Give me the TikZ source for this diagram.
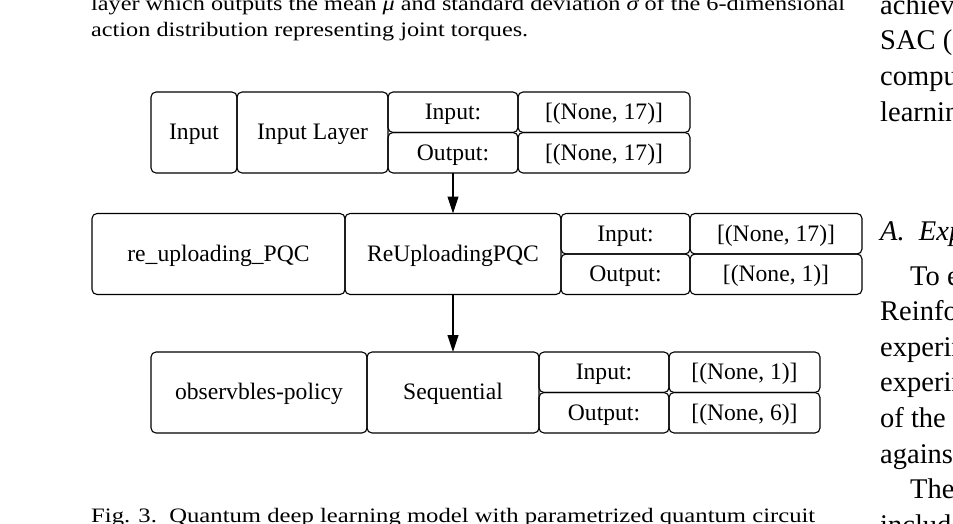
\documentclass[tikz,border=0pt]{standalone}
\usepackage{fontspec}
\setmainfont{Liberation Serif}
\usepackage{graphicx}
\usetikzlibrary{arrows.meta, positioning}
\newcommand{\diagfont}{\fontsize{23.6}{28}\selectfont}
\newcommand{\bodyfont}{\fontsize{20.5}{26}\selectfont}
\newcommand{\colfont}{\fontsize{28.5}{35}\selectfont}
\tikzset{
  cell/.style={draw=black, line width=1.1pt, rounded corners=5pt,
               font=\diagfont, inner sep=0pt, outer sep=0pt, align=center,
               text height=20pt, text depth=5.2pt},
  fullcell/.style={cell, minimum height=81pt},
  halfcell/.style={cell, minimum height=40.5pt},
  arr/.style={-{Triangle[length=17pt, width=11pt]}, line width=1.1pt},
  bodyline/.style={anchor=base west, inner sep=0pt, font=\bodyfont},
  colline/.style={anchor=base west, inner sep=0pt, font=\colfont},
}
\begin{document}
\begin{tikzpicture}[x=1pt, y=-1pt]
  \useasboundingbox (0,0) rectangle (953,524);
  \clip (0,0) rectangle (953,524);

  % Text of the page around the figure
  \node[bodyline] (l1) at (91,10.5)
    {\resizebox{754pt}{\height}{layer which outputs the mean {\itshape μ} and standard deviation {\itshape σ} of the 6-dimensional}};
  \node[bodyline] (l2) at (91,36.5)
    {\resizebox{437pt}{\height}{action distribution representing joint torques.}};
  \node[bodyline] (cap) at (91,522)
    {\resizebox{724pt}{\height}{Fig. 3.\ \ Quantum deep learning model with parametrized quantum circuit}};

  % Right column (cut off by the page edge)
  \node[colline] (c1) at (880,14.4) {achieved};
  \node[colline] (c2) at (880,50) {SAC (};
  \node[colline] (c3) at (880,85.6) {computational};
  \node[colline] (c4) at (880,121.2) {learning};
  \node[colline, font=\colfont\itshape] (c5) at (880,240) {A.\ \ Experimental};
  \node[colline] (c6) at (910,285) {To evaluate};
  \node[colline] (c7) at (880,320.6) {Reinforcement};
  \node[colline] (c8) at (880,356.2) {experiments};
  \node[colline] (c9) at (880,391.8) {experiments};
  \node[colline] (c10) at (880,427.4) {of the};
  \node[colline] (c11) at (880,463) {against};
  \node[colline] (c12) at (910,498.6) {The};
  \node[colline] (c13) at (880,534.2) {include};

  % Row 1: input layer
  \node[fullcell, minimum width=86pt] (r1name) at (194,132.5) {Input};
  \node[fullcell, minimum width=151pt, right=0pt of r1name] (r1type) {Input Layer};
  \node[halfcell, minimum width=130pt, anchor=north west] (r1ik) at (r1type.north east) {Input:};
  \node[halfcell, minimum width=130pt, below=0pt of r1ik] (r1ok) {Output:};
  \node[halfcell, minimum width=172pt, right=0pt of r1ik] (r1iv) {[(None, 17)]};
  \node[halfcell, minimum width=172pt, right=0pt of r1ok] (r1ov) {[(None, 17)]};

  % Row 2: re-uploading PQC
  \node[fullcell, minimum width=253pt] (r2name) at (218.5,254) {re\_uploading\_PQC};
  \node[fullcell, minimum width=216pt, right=0pt of r2name] (r2type) {ReUploadingPQC};
  \node[halfcell, minimum width=129pt, anchor=north west] (r2ik) at (r2type.north east) {Input:};
  \node[halfcell, minimum width=129pt, below=0pt of r2ik] (r2ok) {Output:};
  \node[halfcell, minimum width=172pt, right=0pt of r2ik] (r2iv) {[(None, 17)]};
  \node[halfcell, minimum width=172pt, right=0pt of r2ok] (r2ov) {[(None, 1)]};

  % Row 3: policy head
  \node[fullcell, minimum width=216pt] (r3name) at (259,392.5) {observbles-policy};
  \node[fullcell, minimum width=172pt, right=0pt of r3name] (r3type) {Sequential};
  \node[halfcell, minimum width=130pt, anchor=north west] (r3ik) at (r3type.north east) {Input:};
  \node[halfcell, minimum width=130pt, below=0pt of r3ik] (r3ok) {Output:};
  \node[halfcell, minimum width=151pt, right=0pt of r3ik] (r3iv) {[(None, 1)]};
  \node[halfcell, minimum width=151pt, right=0pt of r3ok] (r3ov) {[(None, 6)]};

  % Arrows between layers
  \draw[arr] (r1ok.south) -- (r2type.north);
  \draw[arr] (r2type.south) -- (r3type.north);

\end{tikzpicture}
\end{document}
